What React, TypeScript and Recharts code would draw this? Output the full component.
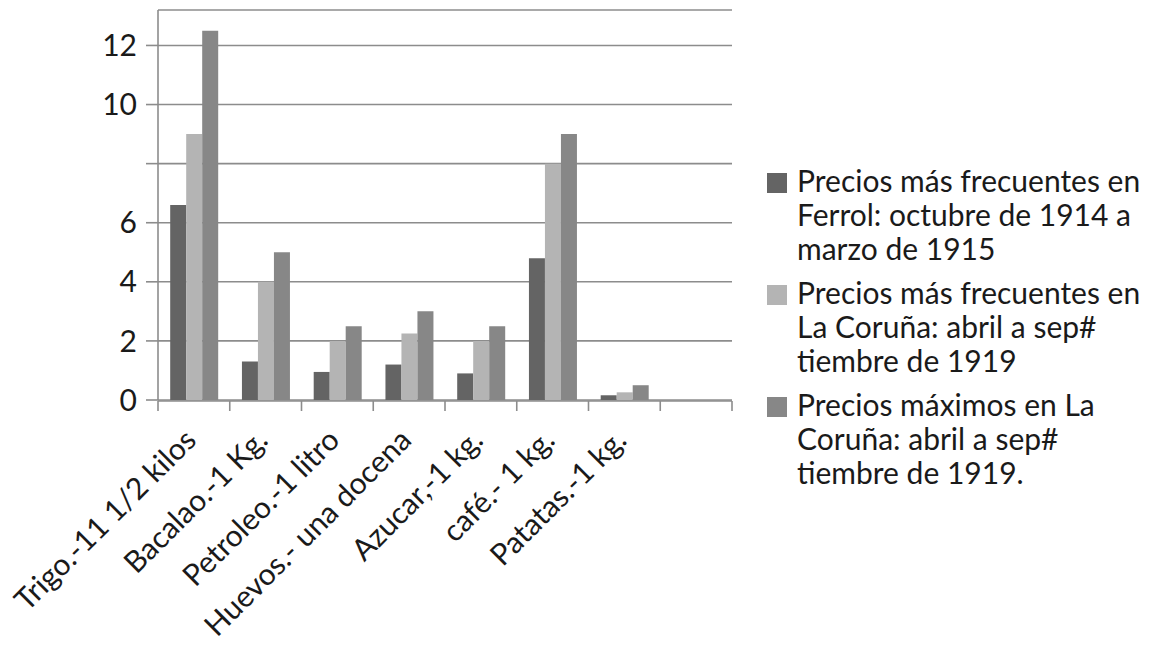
import React from 'react';
import { BarChart, Bar, XAxis, YAxis, CartesianGrid } from 'recharts';

const categories = [
  'Trigo.-11 1/2 kilos',
  'Bacalao.-1 Kg.',
  'Petroleo.-1 litro',
  'Huevos.- una docena',
  'Azucar,-1 kg.',
  'café.- 1 kg.',
  'Patatas.-1 kg.',
  '',
];
const ferrol1914 = [6.6, 1.3, 0.95, 1.2, 0.9, 4.8, 0.16, null];
const coruna1919 = [9, 4, 2, 2.25, 2, 8, 0.26, null];
const corunaMax1919 = [12.5, 5, 2.5, 3, 2.5, 9, 0.5, null];

const yTicks = [0, 2, 4, 6, 8, 10, 12];
const yTickLabels = ['0', '2', '4', '6', '', '10', '12'];
const edgeTicks = [0, 1, 2, 3, 4, 5, 6, 7, 8];

const seriesKeys = ['ferrol', 'coruna', 'corunaMax'];
const seriesColors = ['#646464', '#b4b4b4', '#878787'];
const seriesLabelLines = [
  ['Precios más frecuentes en', 'Ferrol: octubre de 1914 a', 'marzo de 1915'],
  ['Precios más frecuentes en', 'La Coruña: abril a sep#', 'tiembre de 1919'],
  ['Precios máximos en La', 'Coruña: abril a sep#', 'tiembre de 1919.'],
];

const data = categories.map((c, i) => ({
  cat: c,
  idx: i + 0.5,
  ferrol: ferrol1914[i],
  coruna: coruna1919[i],
  corunaMax: corunaMax1919[i],
}));

const FONT = 'Lato, "Open Sans", sans-serif';
const GRID = '#8c8c8c';

const CatTick = (props: any) => {
  const { x, y, payload } = props;
  const ax = x + 4;
  const ay = y + 42;
  return (
    <text
      x={ax}
      y={ay}
      textAnchor="end"
      fontSize={30}
      fontFamily={FONT}
      fill="#1a1a1a"
      transform={`rotate(-45 ${ax} ${ay})`}
    >
      {payload.value}
    </text>
  );
};

const NoLabel = () => <g />;

export default function App() {
  return (
    <div style={{ position: 'absolute', left: 0, top: 0, width: 1156, height: 645, background: '#fff', fontFamily: FONT }}>
      <BarChart
        width={1156}
        height={645}
        data={data}
        margin={{ top: 10, right: 424, bottom: 243, left: 0 }}
        barCategoryGap="17%"
        barGap={0}
      >
        <CartesianGrid xAxisId="cat" vertical={false} stroke={GRID} strokeWidth={1.6} />
        <XAxis
          xAxisId="cat"
          dataKey="cat"
          height={1}
          interval={0}
          tickLine={false}
          axisLine={false}
          tickSize={0}
          tickMargin={0}
          tick={<CatTick />}
        />
        <XAxis
          xAxisId="edges"
          dataKey="idx"
          type="number"
          domain={[0, 8]}
          ticks={edgeTicks}
          interval={0}
          tick={<NoLabel />}
          tickLine={{ stroke: GRID, strokeWidth: 1.6 }}
          tickSize={10}
          height={1}
          allowDataOverflow
          stroke={GRID}
          strokeWidth={1.6}
        />
        <YAxis
          width={158}
          domain={[0, 13.2]}
          ticks={yTicks}
          interval={0}
          allowDataOverflow
          tickFormatter={(v: number) => yTickLabels[yTicks.indexOf(v)] ?? ''}
          tickSize={12}
          tickMargin={9}
          stroke={GRID}
          strokeWidth={1.6}
          tick={{ fontSize: 30, fill: '#1a1a1a', fontFamily: FONT }}
        />
        {seriesKeys.map((k, i) => (
          <Bar key={k} xAxisId="cat" dataKey={k} fill={seriesColors[i]} isAnimationActive={false} />
        ))}
      </BarChart>
      <div style={{ position: 'absolute', left: 767, top: 163, width: 389 }}>
        {seriesLabelLines.map((lines, i) => (
          <div key={i} style={{ display: 'flex', alignItems: 'flex-start', marginBottom: 10 }}>
            <div style={{ width: 20, height: 20, background: seriesColors[i], marginTop: 10, marginRight: 10, flex: 'none' }} />
            <div style={{ fontSize: 30, lineHeight: '34px', color: '#1a1a1a', whiteSpace: 'nowrap' }}>
              {lines.map((l, j) => (
                <div key={j}>{l}</div>
              ))}
            </div>
          </div>
        ))}
      </div>
    </div>
  );
}
